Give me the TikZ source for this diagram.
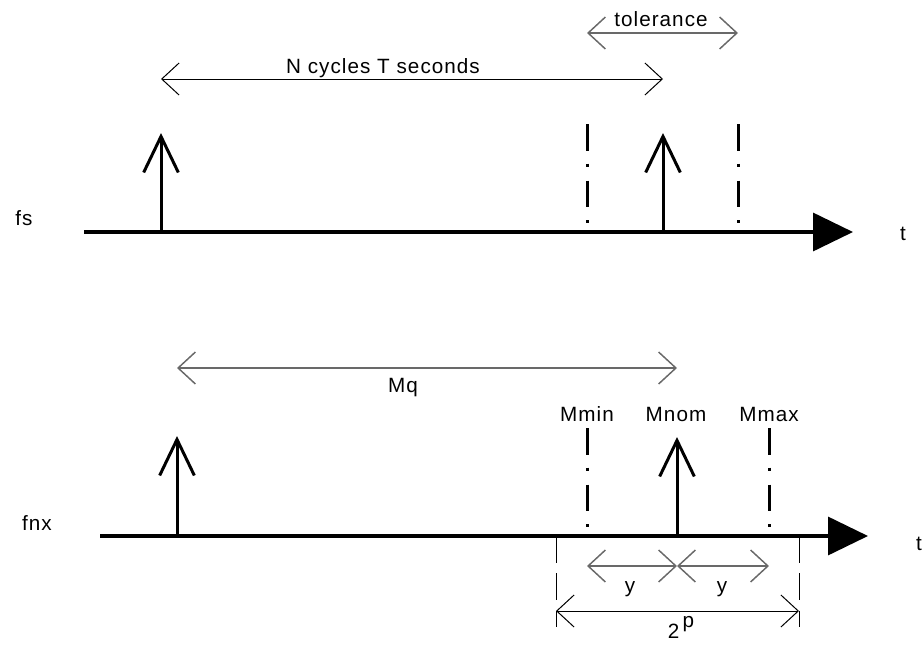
\documentclass[tikz,border=0pt]{standalone}
\usepackage{fontspec}
\setmainfont{Liberation Sans}[LetterSpace=5]
\usetikzlibrary{arrows.meta}

\definecolor{linegray}{RGB}{105,105,105}

\tikzset{
    axisline/.style={line width=2.6bp, -{Triangle[length=30bp,width=28.5bp]}},
    pulse/.style={line width=2.25bp, -{Straight Barb[length=27bp,width=26bp]}},
    limitline/.style={line width=2.25bp, dash pattern=on 20bp off 9.75bp on 2.25bp off 10.5bp},
    extline/.style={line width=0.6bp, dash pattern=on 20bp off 8bp},
    dimline/.style={line width=0.75bp,
        {Straight Barb[length=13bp,width=24bp]}-{Straight Barb[length=13bp,width=24bp]}},
    dimgray/.style={dimline, line width=1.1bp, draw=linegray},
    lbl/.style={font=\fontsize{15.5bp}{18bp}\selectfont, inner sep=0pt, anchor=base}
}

\begin{document}
\begin{tikzpicture}[x=0.75bp, y=-0.75bp]
    \useasboundingbox (0,0) rectangle (922,650);

    % top signal fs
    \coordinate (fsa) at (84,232);
    \coordinate (fsb) at (853,232);
    \draw[axisline] (fsa) -- (fsb);
    \node[lbl] (fslbl) at (24,225) {fs};
    \node[lbl] (fst) at (903,240) {t};

    % impulses
    \foreach \x/\name in {161/sa, 663/sb}
    {
        \coordinate (\name) at (\x,232);
        \coordinate (\name top) at (\x,133);
        \draw[pulse] (\name) -- (\name top);
    }

    % tolerance limits
    \foreach \x/\name in {587/tmin, 738/tmax}
    {
        \coordinate (\name top) at (\x,124);
        \coordinate (\name) at (\x,232);
        \draw[limitline] (\name top) -- (\name);
    }

    % N cycles, tolerance
    \coordinate (nl) at (161,79);
    \coordinate (nr) at (663,79);
    \draw[dimline] (nl) -- (nr);
    \node[lbl] (nlbl) at (383,73) {N cycles T seconds};

    \coordinate (tl) at (587,33);
    \coordinate (tr) at (738,33);
    \draw[dimgray] (tl) -- (tr);
    \node[lbl] (tollbl) at (661,26) {tolerance};

    % bottom signal fnx
    \coordinate (fna) at (100,536);
    \coordinate (fnb) at (868,536);
    \draw[axisline] (fna) -- (fnb);
    \node[lbl] (fnlbl) at (37,530) {fnx};
    \node[lbl] (fnt) at (919,550) {t};

    \coordinate (ma) at (177,536);
    \coordinate (ma top) at (177,436);
    \draw[pulse] (ma) -- (ma top);
    \coordinate (mnom) at (677,536);
    \coordinate (mnom top) at (677,437);
    \draw[pulse] (mnom) -- (mnom top);

    \foreach \x/\name/\txt in {587/mmin/Mmin, 769/mmax/Mmax}
    {
        \coordinate (\name top) at (\x,428);
        \coordinate (\name) at (\x,536);
        \draw[limitline] (\name top) -- (\name);
        \node[lbl] (\name lbl) at (\x,421) {\txt};
    }
    \node[lbl] (mnomlbl) at (676,421) {Mnom};

    % Mq
    \coordinate (ql) at (177,368);
    \coordinate (qr) at (677,368);
    \draw[dimgray] (ql) -- (qr);
    \node[lbl] (qlbl) at (403,392) {Mq};

    % y, y and 2^p
    \coordinate (ya) at (587,566);
    \coordinate (yb) at (677,566);
    \coordinate (yc) at (769,566);
    \draw[dimgray] (ya) -- (yb);
    \draw[dimgray] (yb) -- (yc);
    \node[lbl] (ylbla) at (630,592) {y};
    \node[lbl] (ylblb) at (722,592) {y};

    \coordinate (ea) at (556,536);
    \coordinate (ea end) at (556,627);
    \coordinate (eb) at (799,536);
    \coordinate (eb end) at (799,627);
    \draw[extline] (ea) -- (ea end);
    \draw[extline] (eb) -- (eb end);

    \coordinate (pl) at (556,611);
    \coordinate (pr) at (799,611);
    \draw[dimline] (pl) -- (pr);
    \node[lbl] (plbl) at (681,638) {2\,\raisebox{8bp}{p}};
\end{tikzpicture}
\end{document}
